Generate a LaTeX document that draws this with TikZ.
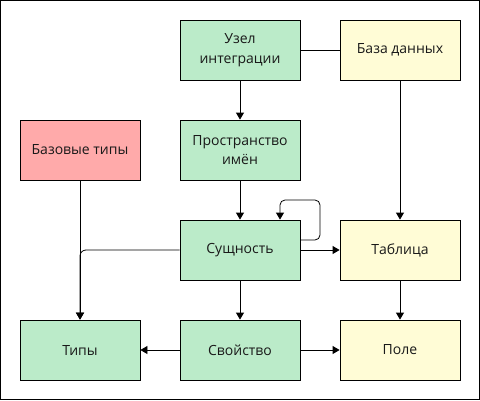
\documentclass[tikz,border=0pt]{standalone}
\usepackage{fontspec}
\setmainfont{Open Sans}
\usetikzlibrary{arrows.meta}
\definecolor{gfill}{RGB}{187,235,201}
\definecolor{yfill}{RGB}{255,252,214}
\definecolor{rfill}{RGB}{255,170,170}
\begin{document}
\begin{tikzpicture}[x=1pt,y=-1pt,
  box/.style={draw=black,line width=0.8pt,minimum width=120pt,minimum height=60pt,inner sep=2pt,align=center,font=\fontsize{14}{19.5}\selectfont,text=black!90},
  gbox/.style={box,fill=gfill},
  ybox/.style={box,fill=yfill},
  rbox/.style={box,fill=rfill},
  conn/.style={draw=black,line width=0.8pt},
  arr/.style={conn,-{Triangle[length=7pt,width=8pt]}}]
\useasboundingbox (0,0) rectangle (480,400);
\draw[line width=1pt] (0.5,0.5) rectangle (479.5,399.5);
\node[gbox] (uzel) at (240,50) {Узел\\интеграции};
\node[ybox] (baza) at (400,50) {База данных};
\node[rbox] (btypes) at (80,150) {Базовые типы};
\node[gbox] (prostr) at (240,150) {Пространство\\имён};
\node[gbox] (sush) at (240,250) {Сущность};
\node[ybox] (tabl) at (400,250) {Таблица};
\node[gbox] (tipy) at (80,350) {Типы};
\node[gbox] (svoj) at (240,350) {Свойство};
\node[ybox] (pole) at (400,350) {Поле};
\coordinate (lp1) at (320,240);
\coordinate (lp2) at (320,200);
\coordinate (lp3) at (280,200);
\draw[conn] (uzel) -- (baza);
\draw[arr] (uzel) -- (prostr);
\draw[arr] (baza) -- (tabl);
\draw[arr] (prostr) -- (sush);
\draw[arr,rounded corners=5pt] (sush.east |- lp1) -- (lp1) -- (lp2) -- (lp3) -- (sush.north -| lp3);
\draw[arr] (sush) -- (tabl);
\draw[arr] (sush) -- (svoj);
\draw[arr] (btypes) -- (tipy);
\draw[arr,rounded corners=6pt] (sush.west) -| (tipy.north);
\draw[arr] (tabl) -- (pole);
\draw[arr] (svoj) -- (tipy);
\draw[arr] (svoj) -- (pole);
\end{tikzpicture}
\end{document}
